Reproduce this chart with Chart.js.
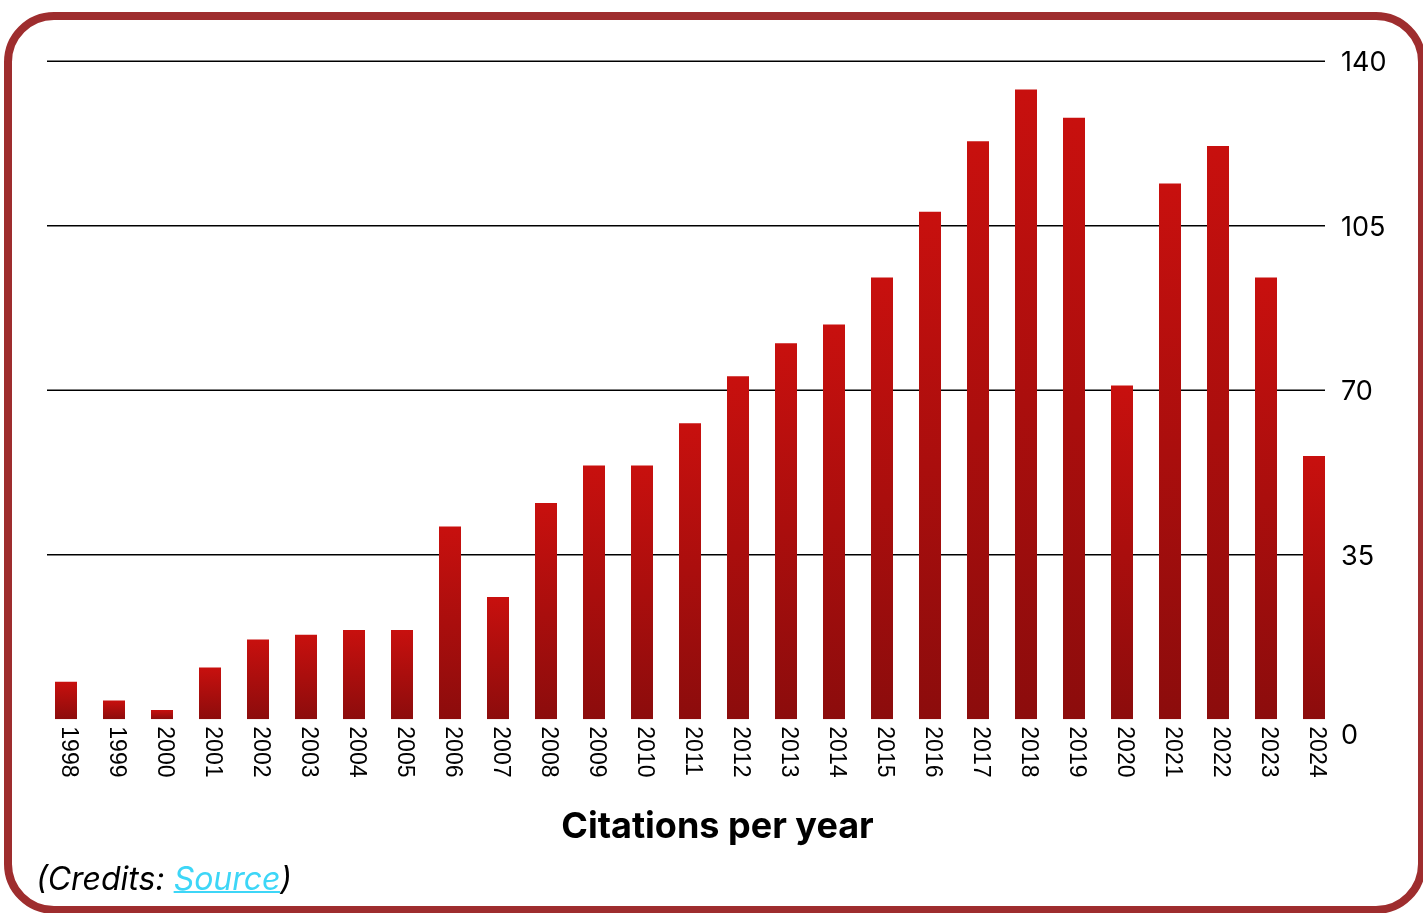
<!DOCTYPE html>
<html>
<head>
<meta charset="utf-8">
<script src="https://cdn.jsdelivr.net/npm/chart.js@4.4.1/dist/chart.umd.min.js"></script>
<style>
  html, body { margin: 0; padding: 0; background: #fff; }
  body { width: 1423px; height: 913px; position: relative; overflow: hidden; }
  #chart { position: absolute; left: 0; top: 0; }
  #frame {
    position: absolute; left: 4px; top: 12px; width: 1422px; height: 902px;
    box-sizing: border-box; border: 8px solid #9e2d2e; border-radius: 50px;
    pointer-events: none;
  }
  #credits {
    position: absolute; left: 36px; top: 863px;
    font: italic 32px/32px Inter, sans-serif; color: #000;
  }
  #credits a { color: #3dd6f7; text-decoration: underline; text-decoration-thickness: 2px; }
</style>
</head>
<body>
<canvas id="chart" width="1423" height="913"></canvas>
<div id="frame"></div>
<div id="credits">(Credits: <a href="#">Source</a>)</div>
<script>
const years = ['1998', '1999', '2000', '2001', '2002', '2003', '2004', '2005', '2006', '2007',
  '2008', '2009', '2010', '2011', '2012', '2013', '2014', '2015', '2016', '2017',
  '2018', '2019', '2020', '2021', '2022', '2023', '2024'];
const citations = [8, 4, 2, 11, 17, 18, 19, 19, 41, 26,
  46, 54, 54, 63, 73, 80, 84, 94, 108, 123,
  134, 128, 71, 114, 122, 94, 56];
const yTicks = [0, 35, 70, 105, 140];

const barTop = '#c8100e';
const barBottom = '#8c0c0c';

Chart.defaults.font.family = 'Inter, sans-serif';

// horizontal rules behind the bars (none at zero)
const gridLines = {
  id: 'gridLines',
  beforeDatasetsDraw(chart) {
    const { ctx, chartArea, scales: { y } } = chart;
    ctx.save();
    ctx.strokeStyle = '#000';
    ctx.lineWidth = 1.6;
    yTicks.forEach(v => {
      if (v === 0) return;
      const py = y.getPixelForValue(v);
      ctx.beginPath();
      ctx.moveTo(chartArea.left + 5, py);
      ctx.lineTo(chartArea.right - 13, py);
      ctx.stroke();
    });
    ctx.restore();
  }
};

// year labels, turned clockwise so they read top to bottom
const yearLabels = {
  id: 'yearLabels',
  afterDraw(chart) {
    const { ctx, chartArea, scales: { x } } = chart;
    ctx.save();
    ctx.font = '23px "Liberation Sans", Arial, sans-serif';
    ctx.fillStyle = '#000';
    ctx.textAlign = 'left';
    ctx.textBaseline = 'middle';
    years.forEach((yr, i) => {
      ctx.save();
      ctx.translate(x.getPixelForValue(i) + 2, chartArea.bottom + 7);
      ctx.rotate(Math.PI / 2);
      ctx.fillText(yr, 0, 0);
      ctx.restore();
    });
    ctx.restore();
  }
};

const barFill = (c) => {
  const chart = c.chart;
  const area = chart.chartArea;
  if (!area || c.type !== 'data') return barTop;
  const top = chart.scales.y.getPixelForValue(c.raw);
  const g = chart.ctx.createLinearGradient(0, top, 0, area.bottom);
  g.addColorStop(0, barTop);
  g.addColorStop(1, barBottom);
  return g;
};

new Chart(document.getElementById('chart'), {
  type: 'bar',
  data: {
    labels: years,
    datasets: [{
      label: 'Citations',
      data: citations,
      backgroundColor: barFill,
      borderWidth: 0,
      categoryPercentage: 1,
      barPercentage: 22 / 48
    }]
  },
  options: {
    responsive: false,
    animation: false,
    devicePixelRatio: 1,
    layout: { padding: { left: 42, right: 30, top: 61.3, bottom: 0 } },
    plugins: {
      legend: { display: false },
      tooltip: { enabled: false },
      title: {
        display: true,
        position: 'bottom',
        text: 'Citations per year',
        color: '#000',
        font: { family: 'Inter, sans-serif', size: 36, weight: 'bold', lineHeight: 1.2 },
        padding: { top: 86, bottom: 64.5 }
      }
    },
    scales: {
      x: {
        display: false,
        offset: true
      },
      y: {
        position: 'right',
        min: 0,
        max: 140,
        afterBuildTicks: (s) => { s.ticks = yTicks.map(v => ({ value: v })); },
        afterFit: (s) => { s.width = 55; },
        grid: { display: false, drawTicks: false },
        border: { display: false },
        ticks: {
          color: '#000',
          padding: 3,
          labelOffset: 2,
          font: { family: 'Inter, sans-serif', size: 27, lineHeight: 1.075 },
          callback: (v) => v === 0 ? ['', '0'] : String(v)
        }
      }
    }
  },
  plugins: [gridLines, yearLabels]
});
</script>
</body>
</html>
